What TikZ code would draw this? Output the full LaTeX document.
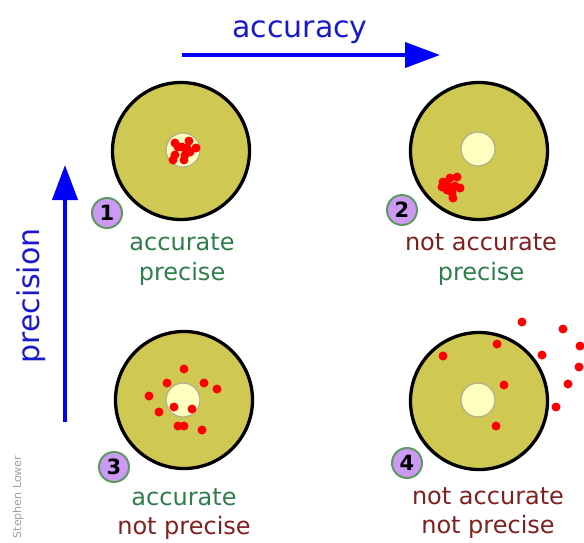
\documentclass[tikz,border=0pt]{standalone}
\usepackage{fontspec}
\setsansfont{DejaVu Sans}
\usetikzlibrary{arrows.meta,positioning}
\definecolor{TargetOlive}{HTML}{CFC953}
\definecolor{TargetCentre}{HTML}{FFFFC0}
\definecolor{CentreRim}{HTML}{B4B08A}
\definecolor{BadgeViolet}{HTML}{CC99F5}
\definecolor{BadgeRim}{HTML}{5E9A60}
\definecolor{OkGreen}{HTML}{2E7D4A}
\definecolor{BadRed}{HTML}{7F1F1F}
\definecolor{AxisBlue}{HTML}{0000FF}
\definecolor{AxisText}{HTML}{1A1ACC}
\definecolor{CreditGrey}{HTML}{A0A0A0}

\begin{document}
\begin{tikzpicture}[
            x=1pt, y=-1pt,
            font=\sffamily,
            target/.style={
                    circle,
                    draw=black,
                    line width=3.3pt,
                    fill=TargetOlive,
                    minimum size=137pt,
                    inner sep=0pt
                },
            bull/.style={circle, draw=CentreRim, line width=1.3pt, fill=TargetCentre, minimum size=34pt, inner sep=0pt},
            hit/.style={circle, fill=red, minimum size=9pt, inner sep=0pt},
            badge/.style={circle, draw=BadgeRim, line width=2pt, fill=BadgeViolet, minimum size=30pt, inner sep=0pt,
                    font=\sffamily\bfseries\fontsize{21}{21}\selectfont},
            ok/.style={anchor=base, inner sep=0pt, text=OkGreen, font=\sffamily\fontsize{24}{28}\selectfont},
            bad/.style={ok, text=BadRed},
            axis/.style={-{Triangle[length=35pt,width=25pt]}, line width=4pt, draw=AxisBlue},
            axislabel/.style={inner sep=0pt, text=AxisText, font=\sffamily\fontsize{30}{34}\selectfont},
        ]

        \useasboundingbox (0,0) rectangle (584,542);

        % axes
        \coordinate (accFrom) at (182,55);
        \coordinate (accTo) at (440,55);
        \coordinate (preFrom) at (65,422);
        \coordinate (preTo) at (65,165);
        \draw[axis] (accFrom) -- (accTo);
        \draw[axis] (preFrom) -- (preTo);
        \node[axislabel, anchor=base] (accLabel) at (300,37) {accuracy};
        \node[axislabel, rotate=90] (preLabel) at (31,296) {precision};

        % targets
        \node[target] (t1) at (181,151) {};
        \node[target] (t2) at (479,151) {};
        \node[target] (t3) at (184,400) {};
        \node[target] (t4) at (479,401) {};
        \node[bull] (b1) at (183,150) {};
        \node[bull] (b2) at (478,149) {};
        \node[bull] (b3) at (183,400) {};
        \node[bull] (b4) at (478,400) {};

        % hits
        \foreach \p [count=\i] in {(175,143),(182,147),(189,141),(196,148),(190,152),(185,155),
                (175,155),(173,160),(184,160),(178,147),(187,148)}
            \node[hit] (hitA\i) at \p {};
        \foreach \p [count=\i] in {(443,182),(450,178),(457,177),(442,187),(448,186),(455,186),
                (460,188),(452,193),(453,198),(447,190)}
            \node[hit] (hitB\i) at \p {};
        \foreach \p [count=\i] in {(184,369),(167,383),(204,383),(217,389),(149,396),(159,412),
                (174,407),(192,409),(178,426),(184,426),(202,430)}
            \node[hit] (hitC\i) at \p {};
        \foreach \p [count=\i] in {(522,322),(563,329),(580,346),(579,367),(568,384),(556,407),
                (542,355),(497,344),(443,356),(504,385),(496,426)}
            \node[hit] (hitD\i) at \p {};

        % badges
        \node[badge] (n1) at (107,213) {1};
        \node[badge] (n2) at (402,210) {2};
        \node[badge] (n3) at (114,467) {3};
        \node[badge] (n4) at (407,463) {4};

        % labels
        \node[ok] (l1a) at (182,250) {accurate};
        \node[ok] (l1b) at ([yshift=-30pt]l1a.base) {precise};
        \node[bad] (l2a) at (481,250) {not accurate};
        \node[ok] (l2b) at ([yshift=-30pt]l2a.base) {precise};
        \node[ok] (l3a) at (184,505) {accurate};
        \node[bad] (l3b) at ([yshift=-29pt]l3a.base) {not precise};
        \node[bad] (l4a) at (488,504) {not accurate};
        \node[bad] (l4b) at ([yshift=-29pt]l4a.base) {not precise};

        \node[rotate=90, text=CreditGrey, font=\sffamily\fontsize{11}{11}\selectfont] (credit) at (18,497) {Stephen Lower};

    \end{tikzpicture}
\end{document}
